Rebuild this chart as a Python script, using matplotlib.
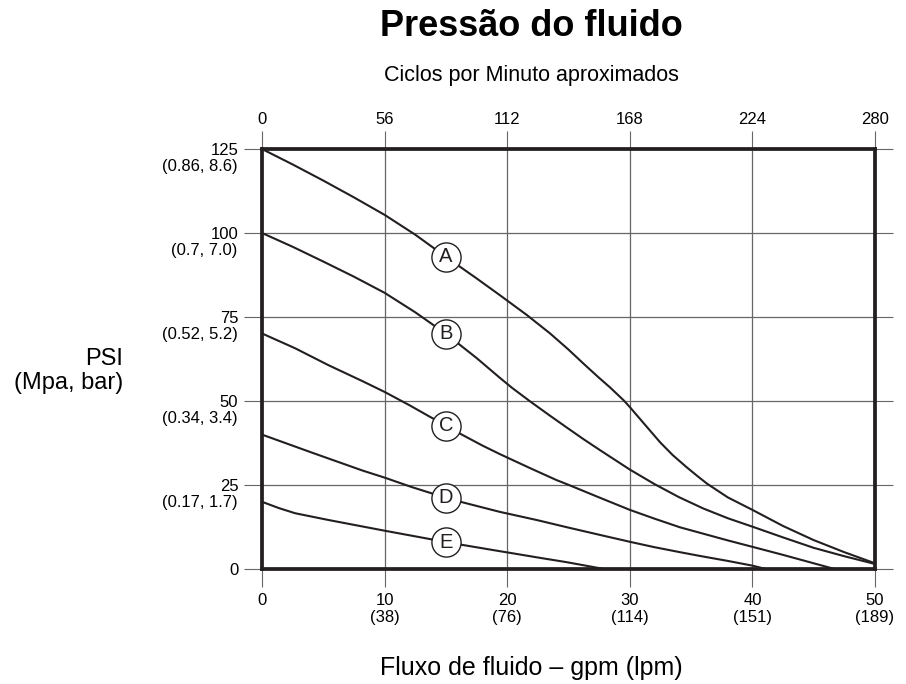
import numpy as np
import matplotlib.pyplot as plt

plt.rcParams['font.family'] = ['Liberation Sans', 'DejaVu Sans']

# curves: flow (gpm) -> pressure (psi)
a_gpm = [0, 2.5, 5, 7.5, 10, 12.5, 15, 17.5, 19.4, 21.6, 23.5, 25, 26.2, 27.4, 28.4, 29.5, 30,
         30.8, 31.6, 32.5, 33.5, 34.6, 35.5, 36.3, 38, 40, 42.5, 45, 47.5, 50]
a_psi = [125, 120.4, 115.6, 110.6, 105.4, 99.5, 92.9, 86.5, 81.5, 75.6, 70.1, 65.3, 61.2, 57.2, 54.0,
         50.2, 48.2, 44.8, 41.4, 37.6, 33.9, 30.4, 27.7, 25.4, 21.3, 17.6, 12.8, 8.6, 5.0, 1.7]

b_gpm = [0, 2.5, 5, 7.5, 10, 12.5, 15, 17.5, 19.4, 20.4, 21.9, 23.5, 24.9, 26.2, 27.6, 30,
         32, 34, 36, 38, 40, 42.5, 45, 47.5, 50]
b_psi = [100, 95.9, 91.5, 87.0, 82.2, 76.4, 70.0, 62.8, 56.9, 53.9, 49.8, 45.6, 42.0, 38.7, 35.3, 29.6,
         25.3, 21.4, 18.0, 15.1, 12.6, 9.4, 6.3, 3.8, 1.5]

c_gpm = [0, 2.7, 5.4, 8.2, 10, 12, 13.6, 14.9, 16.3, 18, 19.4, 20.4, 22, 24, 24.9, 27.5, 30,
         32, 34.1, 35.7, 38, 40, 42.5, 45, 46.7]
c_psi = [70.1, 65.7, 60.7, 55.9, 52.7, 48.8, 45.5, 42.9, 40.0, 36.7, 34.2, 32.5, 29.8, 26.5, 25.2, 21.3, 17.6,
         15.0, 12.4, 10.8, 8.5, 6.6, 4.2, 1.7, 0]

d_gpm = [0, 4.1, 8.2, 10, 12.2, 14.9, 16.3, 19.4, 20.4, 22.5, 24.9, 27.5, 30, 32, 34.1, 35.7,
         38, 40, 41.1]
d_psi = [40, 34.6, 29.3, 27.2, 24.4, 21.3, 19.9, 17.0, 16.2, 14.5, 12.4, 10.2, 8.1, 6.5, 5.0, 3.9,
         2.4, 1.0, 0]

e_gpm = [0, 1.4, 2.7, 5.4, 10, 14.9, 16.3, 19.4, 20.4, 22.7, 24.9, 27.9]
e_psi = [20, 18.1, 16.6, 14.6, 11.4, 8.1, 7.2, 5.3, 4.7, 3.3, 2.0, 0]

curves = {'A': (a_gpm, a_psi), 'B': (b_gpm, b_psi), 'C': (c_gpm, c_psi),
          'D': (d_gpm, d_psi), 'E': (e_gpm, e_psi)}
label_gpm = 15

gpm_ticks = [0, 10, 20, 30, 40, 50]
gpm_labels = ['0', '10\n(38)', '20\n(76)', '30\n(114)', '40\n(151)', '50\n(189)']
cpm_labels = ['0', '56', '112', '168', '224', '280']
psi_ticks = [0, 25, 50, 75, 100, 125]
mpa_bar = ['', '(0.17, 1.7)', '(0.34, 3.4)', '(0.52, 5.2)', '(0.7, 7.0)', '(0.86, 8.6)']

ink = '#231f20'
fig = plt.figure(figsize=(9.06, 6.84), dpi=100)
ax = fig.add_axes([262/906, 115/684, 613/906, 420/684])
ax.set_xlim(0, 50)
ax.set_ylim(0, 125)

for name, (x, y) in curves.items():
    ax.plot(x, y, color=ink, lw=1.5, zorder=3, solid_joinstyle='round')
    ly = np.interp(label_gpm, x, y)
    ax.plot(label_gpm, ly, 'o', ms=21, mfc='white', mec=ink, mew=1.0, zorder=4)
    ax.text(label_gpm, ly, name, ha='center', va='center', fontsize=14.5, color=ink, zorder=5)

ax.set_xticks(gpm_ticks, gpm_labels)
ax.set_yticks(psi_ticks, [str(v) for v in psi_ticks])
ax.grid(True, color='#666666', lw=0.9)
ax.tick_params(axis='both', direction='out', length=13, width=0.8, color='#666666',
               labelsize=12, pad=4, right=True)
for s in ax.spines.values():
    s.set_linewidth(2.7)
    s.set_color(ink)
    s.set_zorder(6)

for v, t in zip(psi_ticks, mpa_bar):
    ax.annotate(t, xy=(0, v), xycoords=('axes fraction', 'data'), xytext=(-17.5, -12.5),
                textcoords='offset points', ha='right', va='center', fontsize=12)

top = ax.secondary_xaxis('top')
top.set_xticks(gpm_ticks, cpm_labels)
top.tick_params(direction='out', length=13, width=0.8, color='#666666', labelsize=12, pad=3)
top.spines['top'].set_visible(False)

fig.text(531/906, 1 - 26/684, 'Pressão do fluido', ha='center', va='center',
         fontsize=26, fontweight='bold')
fig.text(531/906, 1 - 75/684, 'Ciclos por Minuto aproximados', ha='center', va='center', fontsize=15.5)
fig.text(531/906, 1 - 668/684, 'Fluxo de fluido – gpm (lpm)', ha='center', va='center', fontsize=18)
fig.text(123/906, 1 - 371/684, 'PSI\n(Mpa, bar)', ha='right', va='center', multialignment='right',
         fontsize=17, linespacing=1.15)

fig.savefig('out.png', dpi=100)
